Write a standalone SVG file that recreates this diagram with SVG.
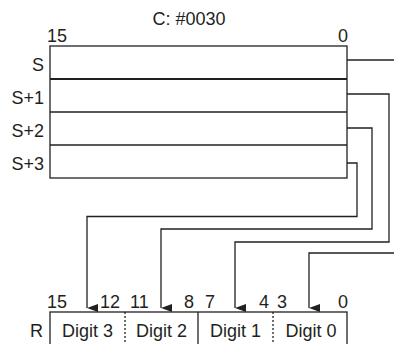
<svg xmlns="http://www.w3.org/2000/svg" width="394" height="344" viewBox="0 0 394 344">
<style>
text{font-family:"Liberation Sans",Arial,sans-serif;font-size:18px;fill:#231f20}
.box{fill:#fff;stroke:#231f20;stroke-width:1.3}
.sep{stroke:#231f20;stroke-width:1.3}
.dot{stroke:#231f20;stroke-width:1.3;stroke-dasharray:2 2}
.con{fill:none;stroke:#231f20;stroke-width:1.3}
.r{text-anchor:end}
.m{text-anchor:middle}
</style>
<defs>
<marker id="ah" markerWidth="8" markerHeight="12" refX="4" refY="11" orient="auto-start-reverse" markerUnits="userSpaceOnUse" viewBox="0 0 8 12">
<path d="M0,0 L8,0 L4,11 Z" fill="#231f20"/>
</marker>
</defs>
<text class="m" x="189" y="25">C: #0030</text>
<g id="source">
<text x="47" y="42">15</text>
<text class="r" x="348" y="42">0</text>
<rect class="box" x="50" y="46" width="297" height="132"/>
<line class="sep" x1="50" y1="79" x2="347" y2="79" style="stroke-width:2.2"/>
<line class="sep" x1="50" y1="112" x2="347" y2="112"/>
<line class="sep" x1="50" y1="145" x2="347" y2="145"/>
<text class="r" x="44" y="71">S</text>
<text class="r" x="44" y="104">S+1</text>
<text class="r" x="44" y="137">S+2</text>
<text class="r" x="44" y="170">S+3</text>
</g>
<g id="connectors">
<polyline class="con" points="347,60 396,60"/>
<polyline class="con" points="396,253 309,253 309,308" marker-end="url(#ah)"/>
<polyline class="con" points="347,94 389,94 389,242 235,242 235,308" marker-end="url(#ah)"/>
<polyline class="con" points="347,128 372,128 372,229 161,229 161,308" marker-end="url(#ah)"/>
<polyline class="con" points="347,163 357,163 357,216.5 87,216.5 87,308" marker-end="url(#ah)"/>
</g>
<g id="result">
<text x="47" y="308">15</text>
<text class="r" x="120" y="308">12</text>
<text x="130" y="308">11</text>
<text class="r" x="194" y="308">8</text>
<text x="205" y="308">7</text>
<text class="r" x="269" y="308">4</text>
<text x="277" y="308">3</text>
<text class="r" x="348" y="308">0</text>
<rect class="box" x="50" y="312" width="297" height="40"/>
<line class="dot" x1="125" y1="312" x2="125" y2="344"/>
<line class="sep" x1="198" y1="312" x2="198" y2="344"/>
<line class="dot" x1="273" y1="312" x2="273" y2="344"/>
<text class="r" x="43" y="337">R</text>
<text class="m" x="87.5" y="337">Digit 3</text>
<text class="m" x="161.5" y="337">Digit 2</text>
<text class="m" x="235.5" y="337">Digit 1</text>
<text class="m" x="311" y="337">Digit 0</text>
</g>
</svg>
